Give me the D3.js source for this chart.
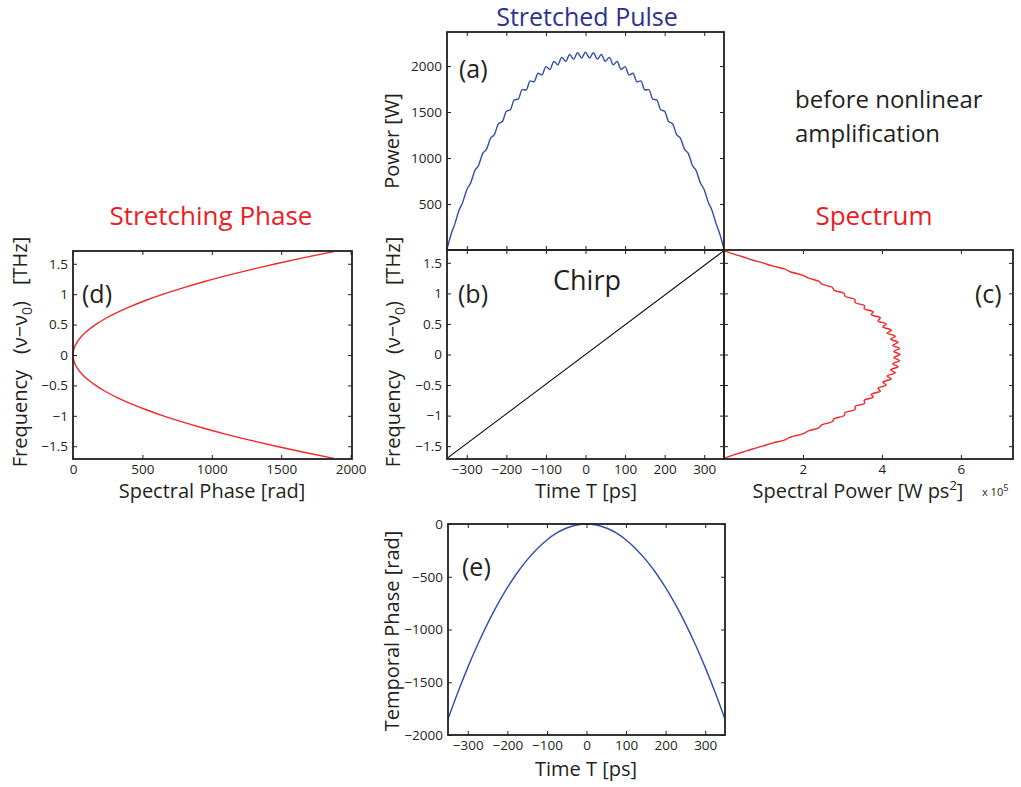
<!DOCTYPE html>
<html>
<head>
<meta charset="utf-8">
<script src="https://cdn.jsdelivr.net/npm/d3@7"></script>
<style>
  body { margin: 0; background: #fff; }
  svg text { font-family: "Open Sans", "Noto Sans", sans-serif; fill: #231f20; }
</style>
</head>
<body>
<div id="chart"></div>
<script>
// (a) stretched pulse power vs time
var pulseTime = [-350,-340,-330,-320,-310,-300,-290,-280,-270,-260,-250,-240,-230,-220,-210,-200,-190,-180,-170,-160,-150,-140,-130,-120,-110,-100,-90,-80,-70,-60,-50,-40,-30,-20,-10,
  0,10,20,30,40,50,60,70,80,90,100,110,120,130,140,150,160,170,180,190,200,210,220,230,240,250,260,270,280,290,300,310,320,330,340,350];
var pulsePower = [10,165,287,427,523,656,732,859,922,1048,1097,1215,1257,1372,1396,1508,1525,1631,1641,1744,1739,1839,1828,1921,1904,1994,1963,2050,2014,2094,2051,2125,2076,2144,2088,
  2150,2088,2144,2076,2125,2051,2094,2014,2050,1963,1994,1904,1921,1828,1839,1739,1744,1641,1631,1525,1508,1396,1372,1257,1215,1097,1048,922,859,732,656,523,427,287,165,10];

// (b) chirp
var chirpTime = [-350, 350];
var chirpFreq = [-1.7, 1.7];

// (c) spectrum (x 10^5) vs frequency
var specFreq = [-1.7,-1.65,-1.6,-1.55,-1.5,-1.45,-1.4,-1.35,-1.3,-1.25,-1.2,-1.15,-1.1,-1.05,-1,-0.95,-0.9,-0.85,-0.8,-0.75,-0.7,-0.65,-0.6,-0.55,-0.5,-0.45,-0.4,-0.35,-0.3,-0.25,-0.2,-0.15,-0.1,-0.05,
  0,0.05,0.1,0.15,0.2,0.25,0.3,0.35,0.4,0.45,0.5,0.55,0.6,0.65,0.7,0.75,0.8,0.85,0.9,0.95,1,1.05,1.1,1.15,1.2,1.25,1.3,1.35,1.4,1.45,1.5,1.55,1.6,1.65,1.7];
var specPower = [0,0.21,0.47,0.70,0.98,1.22,1.53,1.69,1.99,2.14,2.40,2.48,2.74,2.79,3.04,3.07,3.32,3.32,3.56,3.55,3.78,3.73,3.96,3.90,4.11,4.02,4.24,4.13,4.34,4.22,4.41,4.27,4.45,4.30,
  4.46,4.30,4.45,4.27,4.41,4.22,4.34,4.13,4.24,4.02,4.11,3.90,3.96,3.73,3.78,3.55,3.56,3.32,3.32,3.07,3.04,2.79,2.74,2.48,2.40,2.14,1.99,1.69,1.53,1.22,0.98,0.70,0.47,0.21,0];

// (d) stretching phase vs frequency
var stretchFreq = [-1.7,-1.6,-1.5,-1.4,-1.3,-1.2,-1.1,-1,-0.9,-0.8,-0.7,-0.6,-0.5,-0.4,-0.3,-0.2,-0.1,0,0.1,0.2,0.3,0.4,0.5,0.6,0.7,0.8,0.9,1,1.1,1.2,1.3,1.4,1.5,1.6,1.7];
var stretchPhase = [1879,1664,1463,1274,1099,936,787,650,527,416,319,234,163,104,59,26,7,0,7,26,59,104,163,234,319,416,527,650,787,936,1099,1274,1463,1664,1879];

// (e) temporal phase vs time
var phaseTime = [-350,-325,-300,-275,-250,-225,-200,-175,-150,-125,-100,-75,-50,-25,0,25,50,75,100,125,150,175,200,225,250,275,300,325,350];
var temporalPhase = [-1850,-1595,-1359,-1142,-944,-765,-604,-462,-340,-236,-151,-85,-38,-9,0,-9,-38,-85,-151,-236,-340,-462,-604,-765,-944,-1142,-1359,-1595,-1850];

// tick values
var timeTicks = [-300,-200,-100,0,100,200,300];
var powerTicks = [500,1000,1500,2000];
var freqTicks = [-1.5,-1,-0.5,0,0.5,1,1.5];
var specTicks = [2,4,6];
var stretchTicks = [0,500,1000,1500,2000];
var tempPhaseTicks = [-2000,-1500,-1000,-500,0];

var BLUE_LINE = "#2f4ea8";
var RED_LINE = "#f0282a";
var BLUE_TITLE = "#2e3192";
var RED_TITLE = "#ed1c24";
var INK = "#231f20";

var svg = d3.select("#chart")
            .append("svg")
              .attr("width", 1021)
              .attr("height", 787);

function fmt(d) {
  return d < 0 ? "\u2212" + Math.abs(d) : "" + d;
}

function makePanel(box, xDomain, yDomain) {
  var x = d3.scaleLinear().domain(xDomain).range([box.left, box.right]);
  var y = d3.scaleLinear().domain(yDomain).range([box.bottom, box.top]);
  return {x: x, y: y, box: box};
}

function styleAxis(g) {
  g.select(".domain").remove();
  g.attr("font-size", 13.5).attr("font-family", null);
  g.selectAll("line").attr("stroke", INK).attr("stroke-width", 1);
}

// ticks on all four sides, pointing inwards (matlab box style)
function drawAxes(p, xTicks, yTicks, showX, showY) {
  var b = p.box;
  svg.append("g")
      .attr("transform", "translate(0," + b.bottom + ")")
      .call(d3.axisBottom(p.x).tickValues(xTicks).tickSizeInner(-4).tickSizeOuter(0).tickPadding(5)
              .tickFormat(showX ? fmt : ""))
      .call(styleAxis);
  svg.append("g")
      .attr("transform", "translate(0," + b.top + ")")
      .call(d3.axisTop(p.x).tickValues(xTicks).tickSizeInner(-4).tickSizeOuter(0).tickFormat(""))
      .call(styleAxis);
  svg.append("g")
      .attr("transform", "translate(" + b.left + ",0)")
      .call(d3.axisLeft(p.y).tickValues(yTicks).tickSizeInner(-4).tickSizeOuter(0).tickPadding(5)
              .tickFormat(showY ? fmt : ""))
      .call(styleAxis);
  svg.append("g")
      .attr("transform", "translate(" + b.right + ",0)")
      .call(d3.axisRight(p.y).tickValues(yTicks).tickSizeInner(-4).tickSizeOuter(0).tickFormat(""))
      .call(styleAxis);
}

function drawFrame(p) {
  var b = p.box;
  svg.append("rect")
      .attr("x", b.left)
      .attr("y", b.top)
      .attr("width", b.right - b.left)
      .attr("height", b.bottom - b.top)
      .attr("fill", "none")
      .attr("stroke", INK)
      .attr("stroke-width", 1.8);
}

function drawCurve(xs, ys, xScale, yScale, color, curve, width) {
  var pts = xs.map(function(d, i) { return [d, ys[i]]; });
  var line = d3.line()
      .x(function(d) { return xScale(d[0]); })
      .y(function(d) { return yScale(d[1]); })
      .curve(curve);
  svg.append("path")
      .datum(pts)
      .attr("d", line)
      .attr("fill", "none")
      .attr("stroke", color)
      .attr("stroke-width", width);
}

function addText(x, y, str, size, color, anchor) {
  return svg.append("text")
      .attr("x", x)
      .attr("y", y)
      .attr("font-size", size)
      .attr("text-anchor", anchor || "middle")
      .style("fill", color || INK)
      .text(str);
}

function yLabel(x, y, str, size) {
  return svg.append("text")
      .attr("transform", "translate(" + x + "," + y + ") rotate(-90)")
      .attr("text-anchor", "middle")
      .attr("font-size", size)
      .text(str);
}

function freqLabel(x, y) {
  var t = svg.append("text")
      .attr("transform", "translate(" + x + "," + y + ") rotate(-90)")
      .attr("text-anchor", "middle")
      .attr("font-size", 20);
  t.append("tspan").text("Frequency");
  t.append("tspan").attr("dx", 16).text("(\u03bd\u2212\u03bd");
  t.append("tspan").attr("dy", 5).attr("font-size", 14).text("0");
  t.append("tspan").attr("dy", -5).text(")");
  t.append("tspan").attr("dx", 16).text("[THz]");
}

// panels (pixel boxes)
var pA = makePanel({left: 447, right: 724, top: 32, bottom: 250}, [-350, 350], [0, 2370]);
var pB = makePanel({left: 447, right: 724, top: 250, bottom: 459}, [-350, 350], [-1.71, 1.71]);
var pC = makePanel({left: 724, right: 1013, top: 250, bottom: 459}, [0, 7.32], [-1.71, 1.71]);
var pD = makePanel({left: 73, right: 352, top: 251, bottom: 459}, [0, 2010], [-1.71, 1.71]);
var pE = makePanel({left: 448, right: 725, top: 524, bottom: 735}, [-350, 350], [-2000, 0]);

// (a)
drawAxes(pA, timeTicks, powerTicks, false, true);
drawCurve(pulseTime, pulsePower, pA.x, pA.y, BLUE_LINE, d3.curveMonotoneX, 1.4);
// (b)
drawAxes(pB, timeTicks, freqTicks, true, true);
drawCurve(chirpTime, chirpFreq, pB.x, pB.y, "#000", d3.curveLinear, 1.1);
// (c)
drawAxes(pC, specTicks, freqTicks, true, false);
drawCurve(specPower, specFreq, pC.x, pC.y, RED_LINE, d3.curveMonotoneY, 1.4);
// (d)
drawAxes(pD, stretchTicks, freqTicks, true, true);
drawCurve(stretchPhase, stretchFreq, pD.x, pD.y, RED_LINE, d3.curveMonotoneY, 1.4);
// (e)
drawAxes(pE, timeTicks, tempPhaseTicks, true, true);
drawCurve(phaseTime, temporalPhase, pE.x, pE.y, BLUE_LINE, d3.curveMonotoneX, 1.4);

[pA, pB, pC, pD, pE].forEach(drawFrame);

// titles
addText(587, 26, "Stretched Pulse", 25, BLUE_TITLE);
addText(211, 225, "Stretching Phase", 26, RED_TITLE);
addText(874, 225, "Spectrum", 26, RED_TITLE);
addText(795, 108, "before nonlinear", 24, INK, "start");
addText(795, 142, "amplification", 24, INK, "start");

// panel letters
addText(459, 78, "(a)", 25, INK, "start");
addText(458, 303, "(b)", 25, INK, "start");
addText(975, 303, "(c)", 25, INK, "start");
addText(82, 303, "(d)", 25, INK, "start");
addText(462, 576, "(e)", 25, INK, "start");
addText(587, 290, "Chirp", 27);

// axis labels
yLabel(399, 141, "Power [W]", 20);
freqLabel(400, 352);
freqLabel(27, 352);
yLabel(399, 631, "Temporal Phase [rad]", 20);
addText(586, 498, "Time T [ps]", 20);
addText(586, 776, "Time T [ps]", 20);
addText(212, 498, "Spectral Phase [rad]", 20);

var sp = addText(858, 498, "Spectral Power [W ps", 20);
sp.append("tspan").attr("dy", -8).attr("font-size", 13).text("2");
sp.append("tspan").attr("dy", 8).text("]");

var ex = addText(982, 496, "x 10", 11, INK, "start");
ex.append("tspan").attr("dy", -5).attr("font-size", 9).text("5");
</script>
</body>
</html>
